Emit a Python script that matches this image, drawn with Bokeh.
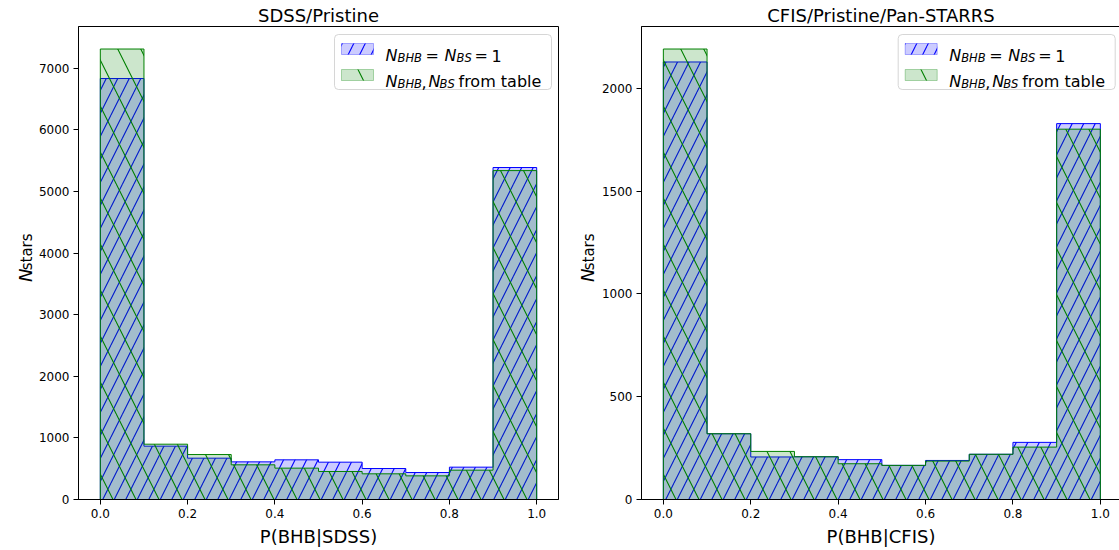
import numpy as np
from bokeh.plotting import figure
from bokeh.models import Label, BoxAnnotation, Range1d, FixedTicker
from bokeh.layouts import row
from bokeh.embed import file_html
from bokeh.resources import INLINE

# ---------------- data ----------------
bin_edges = [0.0, 0.1, 0.2, 0.3, 0.4, 0.5, 0.6, 0.7, 0.8, 0.9, 1.0]

sdss_equal = [6835, 866, 671, 611, 644, 606, 503, 438, 525, 5390]
sdss_table = [7314, 898, 730, 563, 509, 455, 417, 384, 476, 5340]

cfis_equal = [2129, 320, 207, 208, 194, 166, 190, 220, 278, 1829]
cfis_table = [2192, 320, 234, 208, 174, 166, 187, 220, 255, 1802]

x_ticks = [0.0, 0.2, 0.4, 0.6, 0.8, 1.0]
x_tick_labels = ["0.0", "0.2", "0.4", "0.6", "0.8", "1.0"]
sdss_y_ticks = [0, 1000, 2000, 3000, 4000, 5000, 6000, 7000]
cfis_y_ticks = [0, 500, 1000, 1500, 2000]

titles = ["SDSS/Pristine", "CFIS/Pristine/Pan-STARRS"]
x_labels = ["P(BHB|SDSS)", "P(BHB|CFIS)"]

FONT = "DejaVu Sans"
BLUE = "#0000ff"
GREEN = "#008000"
FRAME_H = 473
H = 550
BLUE_HATCH = 23
GREEN_HATCH = 46


def step_polygon(edges, counts):
    e = np.asarray(edges, dtype=float)
    c = np.asarray(counts, dtype=float)
    xs = [e[0]]
    ys = [0.0]
    for i in range(len(c)):
        xs += [e[i], e[i + 1]]
        ys += [c[i], c[i]]
    xs += [e[-1]]
    ys += [0.0]
    return xs, ys


def lbl(p, x, y, text, size, italic=False, angle=0.0, align="left"):
    p.add_layout(Label(x=x, y=y, text=text, text_font=FONT, text_font_size=f"{size}px",
                       text_font_style="italic" if italic else "normal",
                       text_color="black", text_baseline="alphabetic", text_align=align,
                       angle=angle))


def ylabel_strip(width, n_base_x):
    """Narrow strip holding the rotated y-axis label N_stars (pixel coordinates)."""
    s = figure(width=width, height=H, x_range=Range1d(0, width), y_range=Range1d(0, H),
               output_backend="svg", toolbar_location=None,
               x_axis_location=None, y_axis_location=None,
               min_border_left=0, min_border_right=0, min_border_top=0, min_border_bottom=0)
    s.outline_line_color = None
    s.grid.visible = False
    s.background_fill_color = "white"
    s.border_fill_color = "white"
    lbl(s, n_base_x, H - 297, "N", 18, italic=True, angle=np.pi / 2)
    lbl(s, n_base_x + 1.5, H - 283.5, "stars", 15, angle=np.pi / 2)
    return s


def panel(title, xlabel, equal, table, yticks, frame_w, x_end, mb_left, mb_right):
    ymax = 1.05 * max(max(equal), max(table))
    p = figure(frame_width=frame_w, frame_height=FRAME_H,
               x_range=Range1d(-0.05, x_end), y_range=Range1d(0, ymax),
               output_backend="svg", toolbar_location=None,
               min_border_left=mb_left, min_border_right=mb_right,
               min_border_top=26, min_border_bottom=51, title=title)
    p.background_fill_color = "white"
    p.border_fill_color = "white"
    p.grid.visible = False
    p.outline_line_color = "black"
    p.outline_line_alpha = 1.0
    p.outline_line_width = 1

    p.title.align = "center"
    p.title.text_font = FONT
    p.title.text_font_size = "18px"
    p.title.text_font_style = "normal"
    p.title.text_color = "black"
    p.title.standoff = 2

    for ax in (p.xaxis[0], p.yaxis[0]):
        ax.axis_line_color = "black"
        ax.major_tick_line_color = "black"
        ax.major_tick_out = 5
        ax.major_tick_in = 0
        ax.minor_tick_out = 0
        ax.minor_tick_in = 0
        ax.major_label_text_font = FONT
        ax.major_label_text_font_size = "12px"
        ax.major_label_text_color = "black"
    p.xaxis.ticker = FixedTicker(ticks=x_ticks)
    p.xaxis.major_label_overrides = {t: s for t, s in zip(x_ticks, x_tick_labels)}
    p.xaxis.major_label_standoff = 4
    p.xaxis.axis_label = xlabel
    p.xaxis.axis_label_text_font = FONT
    p.xaxis.axis_label_text_font_size = "18px"
    p.xaxis.axis_label_text_font_style = "normal"
    p.xaxis.axis_label_text_color = "black"
    p.xaxis.axis_label_standoff = 5
    p.yaxis.ticker = FixedTicker(ticks=yticks)
    p.yaxis.major_label_standoff = 4

    # histograms (stepfilled)
    xs, ys = step_polygon(bin_edges, equal)
    p.patch(xs, ys, fill_color=BLUE, fill_alpha=0.2, line_color=BLUE, line_width=1,
            hatch_pattern="/", hatch_color=BLUE, hatch_scale=BLUE_HATCH, hatch_weight=1.1)
    xs, ys = step_polygon(bin_edges, table)
    p.patch(xs, ys, fill_color=GREEN, fill_alpha=0.2, line_color=GREEN, line_width=1,
            hatch_pattern="\\", hatch_color=GREEN, hatch_scale=GREEN_HATCH, hatch_weight=1.1)

    # pixel <-> data helpers
    sx = frame_w / (x_end + 0.05)   # px per x unit
    sy = FRAME_H / ymax             # px per y unit
    xr = 1.05                        # logical right edge of axes

    def X(px_from_right):
        return xr - px_from_right / sx

    def Y(px_from_top):
        return ymax - px_from_top / sy

    # legend box
    bw, bh = 217, 55
    b_right = 7
    b_left = b_right + bw
    b_top = 8
    p.add_layout(BoxAnnotation(left=X(b_left), right=X(b_right), top=Y(b_top), bottom=Y(b_top + bh),
                               fill_color="white", fill_alpha=0.8, line_color="#cccccc",
                               line_alpha=0.8, line_width=1, border_radius=4))
    # swatches
    sw_l = b_left - 7
    for top_off, col, pat, sc in [(9, BLUE, "/", BLUE_HATCH), (35, GREEN, "\\", GREEN_HATCH)]:
        p.add_layout(BoxAnnotation(left=X(sw_l), right=X(sw_l - 32), top=Y(b_top + top_off),
                                   bottom=Y(b_top + top_off + 11),
                                   fill_color=col, fill_alpha=0.2, line_color=col, line_width=1,
                                   hatch_pattern=pat, hatch_color=col, hatch_scale=sc,
                                   hatch_weight=1.1))
    t0 = b_left - 51
    base1 = b_top + 21
    base2 = b_top + 47
    sub = 2.5
    row1 = [(0, "N", True, 16, 0), (12, "BHB", True, 11.5, sub), (40, "=", False, 16, 0),
            (59, "N", True, 16, 0), (71, "BS", True, 11.5, sub), (89, "=", False, 16, 0),
            (106, "1", False, 16, 0)]
    row2 = [(0, "N", True, 16, 0), (12, "BHB", True, 11.5, sub), (36, ",", False, 16, 0),
            (43, "N", True, 16, 0), (54, "BS", True, 11.5, sub), (73, "from table", False, 16, 0)]
    for base, items in [(base1, row1), (base2, row2)]:
        for off, txt, it, size, dy in items:
            lbl(p, X(t0 - off), Y(base + dy), txt, size, italic=it)
    return p


L1 = ylabel_strip(35, 25)
p1 = panel(titles[0], x_labels[0], sdss_equal, sdss_table, sdss_y_ticks,
           480, 1.05, 43, 2)
L2 = ylabel_strip(38, 27)
p2 = panel(titles[1], x_labels[1], cfis_equal, cfis_table, cfis_y_ticks,
           479, -0.05 + 479 / 437, 42, 0)

layout = row(L1, p1, L2, p2)
open("out.html", "w").write(file_html(layout, INLINE))
